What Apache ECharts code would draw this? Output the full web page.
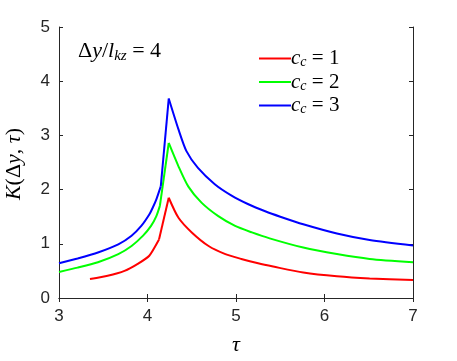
<!DOCTYPE html>
<html>
<head>
<meta charset="utf-8">
<script src="https://cdn.jsdelivr.net/npm/echarts@6/dist/echarts.min.js"></script>
<style>
  html, body { margin: 0; padding: 0; background: #fff; }
  #main { width: 457px; height: 361px; }
</style>
</head>
<body>
<div id="main"></div>
<script>
// values, each curve with its own tau samples
var tauBlue = [3.0, 3.21, 3.44, 3.67, 3.82, 3.93, 4.02, 4.06, 4.10, 4.15, 4.24, 4.35, 4.44, 4.57, 4.76, 4.95, 5.14, 5.33, 5.5, 5.76, 6.14, 6.51, 7.0];
var kBlue = [0.64, 0.73, 0.84, 0.99, 1.15, 1.33, 1.54, 1.67, 1.82, 2.06, 3.68, 3.11, 2.71, 2.40, 2.10, 1.89, 1.73, 1.60, 1.50, 1.36, 1.19, 1.07, 0.97];
var tauGreen = [3.0, 3.21, 3.44, 3.67, 3.82, 3.95, 4.04, 4.10, 4.14, 4.24, 4.35, 4.46, 4.61, 4.80, 4.99, 5.18, 5.38, 5.76, 6.14, 6.51, 7.0];
var kGreen = [0.48, 0.56, 0.66, 0.81, 0.96, 1.15, 1.33, 1.51, 1.70, 2.86, 2.43, 2.06, 1.76, 1.51, 1.33, 1.21, 1.10, 0.93, 0.81, 0.72, 0.66];
var tauRed = [3.35, 3.55, 3.74, 3.89, 4.02, 4.13, 4.24, 4.35, 4.50, 4.69, 4.88, 5.06, 5.25, 5.42, 5.76, 6.14, 6.51, 7.0];
var kRed = [0.35, 0.41, 0.50, 0.63, 0.78, 1.08, 1.85, 1.48, 1.21, 0.96, 0.81, 0.72, 0.64, 0.58, 0.47, 0.40, 0.36, 0.33];
var xTicks = [3, 4, 5, 6, 7];
var yTicks = [0, 1, 2, 3, 4, 5];
var ccLabels = ['1', '2', '3'];

function pairs(xs, ys, from, to) {
  var out = [];
  for (var i = from; i <= to; i++) out.push([xs[i], ys[i]]);
  return out;
}

var chart = echarts.init(document.getElementById('main'));
var axisCol = '#262626';
var serif = '"Liberation Serif", "DejaVu Serif", serif';
var sans = '"Liberation Sans", Arial, sans-serif';

// one curve = rising part (up to the kink) + straight jump to the peak + decaying tail
function curve(name, xs, ys, color) {
  var pk = ys.indexOf(Math.max.apply(null, ys));
  var base = {
    name: name, type: 'line', showSymbol: false,
    lineStyle: { color: color, width: 2 }, itemStyle: { color: color }, z: 3
  };
  return [
    Object.assign({}, base, { data: pairs(xs, ys, 0, pk - 1), smooth: 0.2 }),
    Object.assign({}, base, { data: pairs(xs, ys, pk - 1, pk) }),
    Object.assign({}, base, { data: pairs(xs, ys, pk, xs.length - 1), smooth: 0.25 })
  ];
}

var boxAxis = { axisLine: { show: true, lineStyle: { color: axisCol, width: 1 } },
  axisTick: { inside: true, length: 4, lineStyle: { color: axisCol } },
  axisLabel: { show: false }, splitLine: { show: false } };

chart.setOption({
  animation: false,
  grid: { left: 59, right: 44, top: 27, bottom: 62 },
  xAxis: [{
    type: 'value', min: xTicks[0], max: xTicks[xTicks.length - 1], interval: 1,
    name: 'τ', nameLocation: 'middle', nameGap: 36,
    nameTextStyle: { fontFamily: serif, fontStyle: 'italic', fontSize: 22, color: '#000' },
    axisLine: { lineStyle: { color: axisCol, width: 1 } },
    axisTick: { inside: true, length: 4, lineStyle: { color: axisCol } },
    axisLabel: { fontFamily: sans, fontSize: 17, color: '#262626', margin: 10 },
    splitLine: { show: false }
  }, Object.assign({ type: 'value', position: 'top', min: 3, max: 7, interval: 1 }, boxAxis)],
  yAxis: [{
    type: 'value', min: yTicks[0], max: yTicks[yTicks.length - 1], interval: 1,
    axisLine: { show: true, lineStyle: { color: axisCol, width: 1 } },
    axisTick: { inside: true, length: 4, lineStyle: { color: axisCol } },
    axisLabel: { fontFamily: sans, fontSize: 17, color: '#262626', margin: 9 },
    splitLine: { show: false }
  }, Object.assign({ type: 'value', position: 'right', min: 0, max: 5, interval: 1 }, boxAxis)],
  legend: {
    orient: 'vertical',
    left: 254, top: 43,
    itemWidth: 32, itemHeight: 2,
    itemGap: 2,
    icon: 'rect',
    data: ['cc1', 'cc2', 'cc3'],
    formatter: function (name) {
      return '{i|c}{s|c}{n| = ' + ccLabels[+name.slice(2) - 1] + '}';
    },
    textStyle: {
      padding: [0, 0, 0, -5],
      rich: {
        i: { fontFamily: serif, fontStyle: 'italic', fontSize: 21, color: '#000', height: 22 },
        s: { fontFamily: serif, fontStyle: 'italic', fontSize: 14, color: '#000', verticalAlign: 'bottom', padding: [6, 0, 0, 0] },
        n: { fontFamily: serif, fontSize: 21, color: '#000', height: 22 }
      }
    }
  },
  graphic: [{
    type: 'text', left: 78, top: 40,
    style: {
      text: '{u|Δ}{i|y}{u|/}{i|l}{s|kz}{u| = 4}',
      rich: {
        u: { fontFamily: serif, fontSize: 22, fill: '#000' },
        i: { fontFamily: serif, fontStyle: 'italic', fontSize: 22, fill: '#000' },
        s: { fontFamily: serif, fontStyle: 'italic', fontSize: 15, fill: '#000', padding: [10, 0, 0, 0] }
      }
    }
  }, {
    type: 'text', x: 14, y: 164, rotation: Math.PI / 2,
    style: {
      text: '{i|K}{u|(Δ}{i|y}{u|, }{i|τ}{u|)}',
      align: 'center', verticalAlign: 'middle',
      rich: {
        u: { fontFamily: serif, fontSize: 22, fill: '#000' },
        i: { fontFamily: serif, fontStyle: 'italic', fontSize: 22, fill: '#000' }
      }
    }
  }],
  series: [].concat(
    curve('cc1', tauRed, kRed, '#ff0000'),
    curve('cc2', tauGreen, kGreen, '#00ff00'),
    curve('cc3', tauBlue, kBlue, '#0000ff')
  )
});
</script>
</body>
</html>
